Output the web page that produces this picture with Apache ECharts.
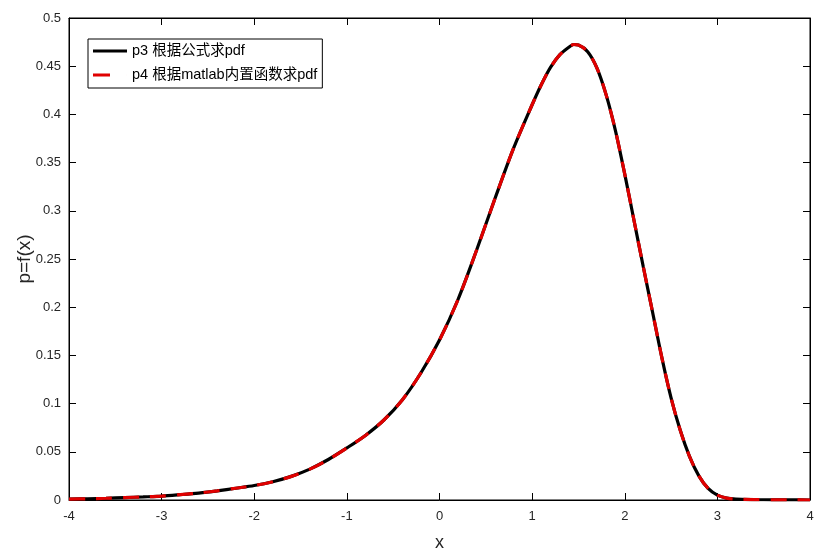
<!DOCTYPE html>
<html>
<head>
<meta charset="utf-8">
<script src="https://cdn.jsdelivr.net/npm/echarts@6/dist/echarts.min.js"></script>
<style>html,body{margin:0;padding:0;background:#fff;}#c{width:821px;height:552px;}</style>
</head>
<body>
<div id="c"></div>
<script>
const xs = [-4.0,-3.8,-3.6,-3.4,-3.2,-3.0,-2.8,-2.6,-2.4,-2.2,-2.0,-1.8,-1.6,-1.4,-1.2,-1.0,-0.8,-0.6,-0.4,-0.2,0.0,0.2,0.4,0.6,0.8,1.0,1.1,1.2,1.3,1.4,1.45,1.5,1.6,1.7,1.8,1.9,2.0,2.1,2.2,2.3,2.4,2.5,2.6,2.7,2.8,2.9,3.0,3.1,3.2,3.4,3.6,3.8,4.0];
const p3 = [0.001,0.0013,0.0018,0.0025,0.0032,0.004,0.0055,0.0072,0.0095,0.0122,0.015,0.019,0.0245,0.032,0.042,0.054,0.067,0.083,0.104,0.132,0.166,0.208,0.259,0.313,0.365,0.410,0.431,0.449,0.462,0.470,0.4725,0.472,0.465,0.448,0.420,0.383,0.338,0.290,0.242,0.195,0.148,0.106,0.072,0.045,0.025,0.012,0.005,0.002,0.0009,0.0004,0.0002,0.0001,0.0];
const p4 = [0.001,0.0013,0.0018,0.0025,0.0032,0.004,0.0055,0.0072,0.0095,0.0122,0.015,0.019,0.0245,0.032,0.042,0.054,0.067,0.083,0.104,0.132,0.166,0.208,0.259,0.313,0.365,0.410,0.431,0.449,0.462,0.470,0.4725,0.472,0.465,0.448,0.420,0.383,0.338,0.290,0.242,0.195,0.148,0.106,0.072,0.045,0.025,0.012,0.005,0.002,0.0009,0.0004,0.0002,0.0001,0.0];
const seriesNames = ['p3 根据公式求pdf', 'p4 根据matlab内置函数求pdf'];
const xTicks = {min: -4, max: 4, interval: 1};
const yTicks = {min: 0, max: 0.5, interval: 0.05};

const font = 'Liberation Sans, Arial, "Noto Sans CJK SC", sans-serif';
const chart = echarts.init(document.getElementById('c'), null, {renderer: 'canvas'});
const axLine = {show: true, onZero: false, lineStyle: {color: '#000', width: 1}};
const tick = {show: true, inside: true, length: 7, lineStyle: {color: '#000'}};
const option = {
  backgroundColor: '#fff',
  animation: false,
  grid: {left: 69, right: 11, top: 18, bottom: 52, show: true, borderColor: '#000', borderWidth: 1,
         containLabel: false, outerBoundsMode: 'none'},
  legend: {
    left: 88, top: 39, orient: 'vertical',
    backgroundColor: '#fff', borderColor: '#000', borderWidth: 1,
    padding: [4, 5, 5, 5], itemGap: 8, itemWidth: 34, itemHeight: 3,
    textStyle: {fontSize: 14.5, lineHeight: 16, color: '#000', fontFamily: font},
    data: [
      {name: seriesNames[0], icon: 'rect', itemStyle: {color: '#000'}},
      {name: seriesNames[1], icon: 'path://M0,0L17,0L17,3L0,3Z M34,0L34.01,0L34.01,3L34,3Z', itemStyle: {color: '#e00000'}}
    ]
  },
  xAxis: [{
    type: 'value', min: xTicks.min, max: xTicks.max, interval: xTicks.interval,
    name: 'x', nameLocation: 'middle', nameGap: 34,
    nameTextStyle: {fontSize: 18, color: '#262626', fontFamily: font},
    axisLine: axLine, axisTick: tick,
    axisLabel: {fontSize: 13, color: '#262626', margin: 10, fontFamily: font},
    splitLine: {show: false}
  }, {
    type: 'value', position: 'top', min: xTicks.min, max: xTicks.max, interval: xTicks.interval,
    axisLine: axLine, axisTick: tick,
    axisLabel: {show: false}, splitLine: {show: false}
  }],
  yAxis: [{
    type: 'value', min: yTicks.min, max: yTicks.max, interval: yTicks.interval,
    name: 'p=f(x)', nameLocation: 'middle', nameGap: 35, nameRotate: 90, nameMoveOverlap: false,
    nameTextStyle: {fontSize: 19, color: '#262626', fontFamily: font},
    axisLine: axLine, axisTick: tick,
    axisLabel: {fontSize: 13, color: '#262626', margin: 8, fontFamily: font},
    splitLine: {show: false}
  }, {
    type: 'value', position: 'right', min: yTicks.min, max: yTicks.max, interval: yTicks.interval,
    axisLine: axLine, axisTick: tick,
    axisLabel: {show: false}, splitLine: {show: false}
  }],
  series: [{
    name: seriesNames[0], type: 'line', xAxisIndex: 0, yAxisIndex: 0,
    data: xs.map((x, i) => [x, p3[i]]),
    symbol: 'none', smooth: 0.3, color: '#000',
    lineStyle: {color: '#000', width: 3.2}
  }, {
    name: seriesNames[1], type: 'line', xAxisIndex: 0, yAxisIndex: 0,
    data: xs.map((x, i) => [x, p4[i]]),
    symbol: 'none', smooth: 0.3, color: '#e00000',
    lineStyle: {color: '#e00000', width: 3.2, type: [16, 11]}
  }]
};
chart.setOption(option);
</script>
</body>
</html>
